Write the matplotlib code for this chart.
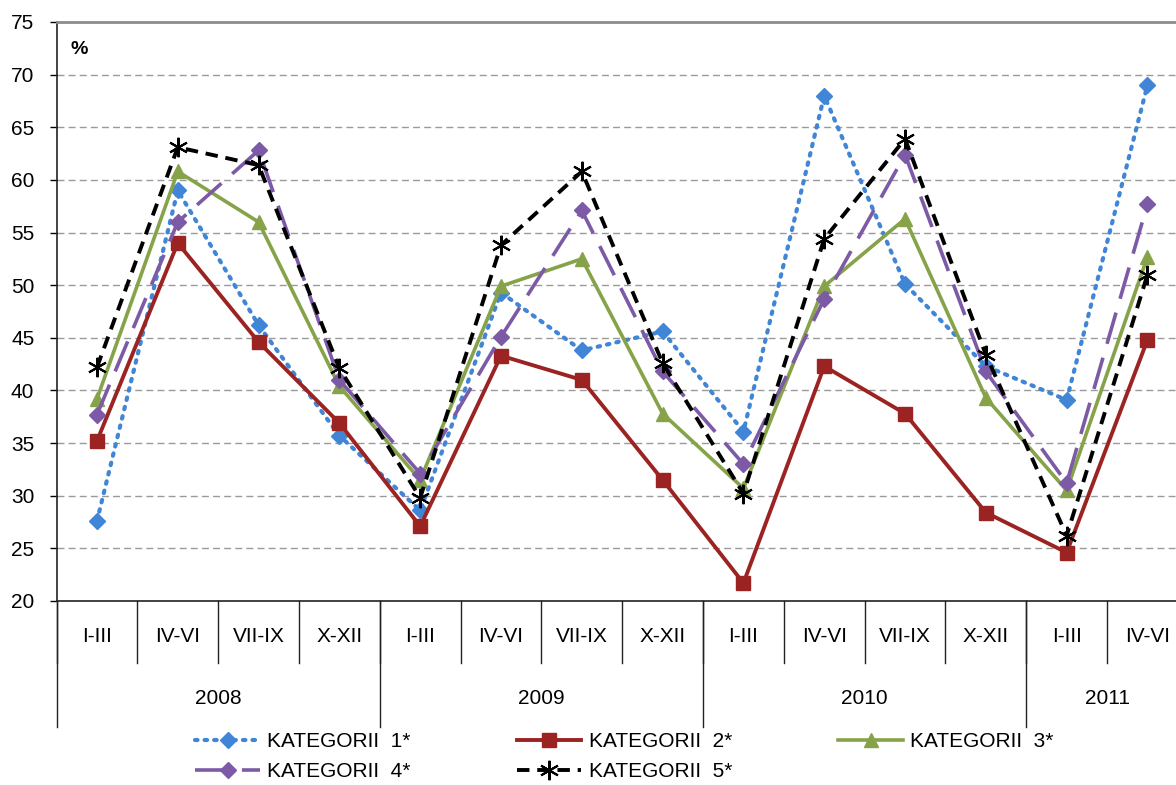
import numpy as np
import matplotlib.pyplot as plt

plt.rcParams['font.family'] = ['Liberation Sans', 'DejaVu Sans']

# quarters (first level) and years (second level) of the category axis
quarters = ["I-III", "IV-VI", "VII-IX", "X-XII",
            "I-III", "IV-VI", "VII-IX", "X-XII",
            "I-III", "IV-VI", "VII-IX", "X-XII",
            "I-III", "IV-VI"]
years = ["2008", "2009", "2010", "2011"]
year_len = [4, 4, 4, 2]

kat1 = [27.6, 59.0, 46.2, 35.7, 28.6, 49.3, 43.8, 45.6, 36.1, 68.0, 50.1, 42.3, 39.1, 69.0]
kat2 = [35.2, 54.0, 44.6, 36.9, 27.1, 43.3, 41.0, 31.5, 21.7, 42.3, 37.8, 28.4, 24.6, 44.8]
kat3 = [39.2, 60.8, 56.0, 40.4, 31.5, 49.9, 52.5, 37.8, 30.7, 49.9, 56.3, 39.3, 30.5, 52.7]
kat4 = [37.7, 56.0, 62.8, 41.0, 32.1, 45.1, 57.1, 41.8, 33.0, 48.7, 62.4, 41.8, 31.2, 57.7]
kat5 = [42.2, 63.1, 61.4, 42.1, 29.8, 53.8, 60.8, 42.6, 30.2, 54.4, 63.9, 43.4, 26.2, 51.0]

labels = ["KATEGORII  1*", "KATEGORII  2*", "KATEGORII  3*", "KATEGORII  4*", "KATEGORII  5*"]

fig = plt.figure(figsize=(11.76, 7.85), dpi=100)
ax = fig.add_axes([0.0481, 0.2344, 0.962, 0.7376])

x = np.arange(len(quarters))

l1, = ax.plot(x, kat1, color='#4185D6', lw=3, linestyle=(0, (0.6, 1.7)),
              dash_capstyle='round', marker='D', markersize=8.5, label=labels[0])
l2, = ax.plot(x, kat2, color='#9B2423', lw=2.8, marker='s', markersize=9.5, label=labels[1])
l3, = ax.plot(x, kat3, color='#87A34A', lw=2.6, marker='^', markersize=9.5, label=labels[2])
l4, = ax.plot(x, kat4, color='#7D5AA6', lw=2.6, linestyle=(0, (9, 4)),
              marker='D', markersize=8.5, label=labels[3])
l5, = ax.plot(x, kat5, color='black', lw=2.8, linestyle=(0, (3.2, 2)),
              marker=(6, 2, 0), markersize=14, markeredgewidth=1.5, label=labels[4])

ax.set_xlim(-0.5, len(quarters) - 0.5)
ax.set_ylim(20, 75)
ax.set_yticks(np.arange(20, 76, 5))
ax.tick_params(axis='y', labelsize=15, length=5, width=1, direction='out', pad=11)
ax.set_xticks([])

for v in range(25, 75, 5):
    ax.axhline(v, color='#9a9a9a', lw=1, linestyle=(0, (5, 3)), zorder=0)

ax.spines['right'].set_visible(False)
ax.spines['top'].set_color('#8c8c8c')
ax.spines['top'].set_linewidth(2)
ax.spines['left'].set_color('#222222')
ax.spines['bottom'].set_color('#222222')
ax.spines['left'].set_linewidth(1.2)
ax.spines['bottom'].set_linewidth(1.2)

ax.text(0.012, 0.945, "%", transform=ax.transAxes, fontsize=14, fontweight='bold')

# two-level category axis
tr = ax.get_xaxis_transform()
for i in range(len(quarters) + 1):
    ax.plot([i - 0.5, i - 0.5], [0, -0.107], transform=tr, color='#222222', lw=1, clip_on=False)
for i, q in enumerate(quarters):
    ax.text(i, -0.062, q, transform=tr, ha='center', va='center', fontsize=15)

start = 0
for y, n in zip(years, year_len):
    ax.plot([start - 0.5, start - 0.5], [0, -0.218], transform=tr, color='#222222', lw=1, clip_on=False)
    ax.text(start - 0.5 + n / 2, -0.168, y, transform=tr, ha='center', va='center', fontsize=15)
    start += n

handles = [l1, l4, l2, l5, l3]
fig.legend(handles, [h.get_label() for h in handles], loc='center', ncol=3,
           bbox_to_anchor=(0.531, 0.036), frameon=False, fontsize=15,
           handlelength=3.1, handletextpad=0.35, columnspacing=5.1, labelspacing=0.55)

fig.savefig("out.png", dpi=100)
